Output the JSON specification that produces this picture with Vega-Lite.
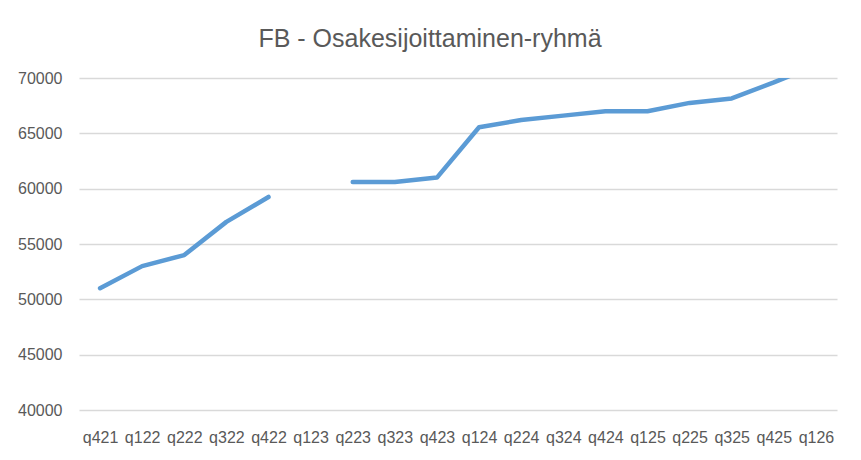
{
  "$schema": "https://vega.github.io/schema/vega-lite/v6.json",
  "autosize": {"type": "none"},
  "width": 758,
  "height": 332,
  "padding": {"left": 79, "top": 78, "right": 24, "bottom": 50},
  "background": "white",
  "title": {
    "text": "FB - Osakesijoittaminen-ryhmä",
    "font": "Liberation Sans",
    "fontSize": 25,
    "fontWeight": "normal",
    "color": "#595959",
    "anchor": "middle",
    "baseline": "alphabetic",
    "offset": 33,
    "dx": -28,
    "dy": 35
  },
  "data": {
    "values": [
      {"q": "q421", "v": 51000},
      {"q": "q122", "v": 53000},
      {"q": "q222", "v": 54000},
      {"q": "q322", "v": 57000},
      {"q": "q422", "v": 59250},
      {"q": "q123", "v": null},
      {"q": "q223", "v": 60600},
      {"q": "q323", "v": 60600},
      {"q": "q423", "v": 61000},
      {"q": "q124", "v": 65550},
      {"q": "q224", "v": 66200},
      {"q": "q324", "v": 66600},
      {"q": "q424", "v": 67000},
      {"q": "q125", "v": 67000},
      {"q": "q225", "v": 67750},
      {"q": "q325", "v": 68150},
      {"q": "q425", "v": 69600},
      {"q": "q126", "v": 71150}
    ]
  },
  "mark": {
    "type": "line",
    "color": "#5b9bd5",
    "strokeWidth": 4.5,
    "strokeCap": "round",
    "strokeJoin": "round",
    "clip": true,
    "invalid": "break-paths-show-domains"
  },
  "encoding": {
    "x": {
      "field": "q",
      "type": "ordinal",
      "sort": null,
      "scale": {"type": "point", "padding": 0.5, "domain": ["q421","q122","q222","q322","q422","q123","q223","q323","q423","q124","q224","q324","q424","q125","q225","q325","q425","q126"]},
      "axis": {
        "title": null,
        "labelAngle": 0,
        "labelFont": "Liberation Sans",
        "labelFontSize": 16,
        "labelColor": "#595959",
        "labelPadding": 19,
        "labelOverlap": false,
        "labelBaseline": "top",
        "ticks": false,
        "domain": false,
        "grid": false
      }
    },
    "y": {
      "field": "v",
      "type": "quantitative",
      "scale": {"domain": [40000, 70000], "nice": false, "zero": false},
      "axis": {
        "title": null,
        "values": [40000, 45000, 50000, 55000, 60000, 65000, 70000],
        "format": "d",
        "labelFont": "Liberation Sans",
        "labelFontSize": 16,
        "labelColor": "#595959",
        "labelPadding": 17,
        "ticks": false,
        "domain": false,
        "grid": true,
        "gridColor": "#d9d9d9",
        "gridWidth": 1.5
      }
    }
  },
  "config": {"view": {"stroke": null}}
}
